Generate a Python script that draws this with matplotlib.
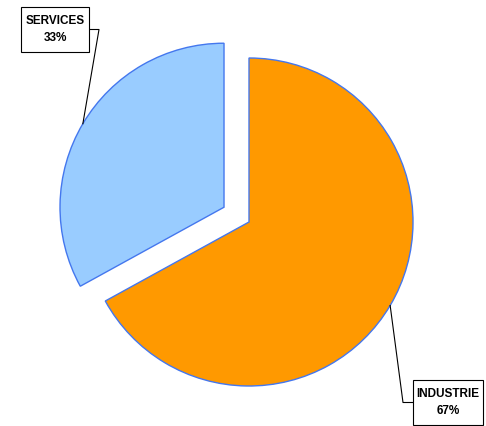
import numpy as np
import matplotlib.pyplot as plt
from matplotlib.patches import Rectangle

labels = ["INDUSTRIE", "SERVICES"]
shares = [67, 33]
colors = ["#FF9900", "#99CCFF"]
explode_frac = [0, 0.177]
label_pos = [(448, 23.5), (55, 396.5)]   # box centres, pixel units
box_size = [(70, 45), (68, 45)]

plt.rcParams["font.family"] = ["Liberation Sans", "DejaVu Sans"]

fig = plt.figure(figsize=(4.86, 4.26), dpi=100)
ax = fig.add_axes([0, 0, 1, 1])

center = (249, 204)
radius = 164
# pie() offsets exploded wedges in data units, so scale by the radius
explode = [f * radius for f in explode_frac]
wedges, _ = ax.pie(shares, colors=colors, explode=explode, startangle=90,
                   counterclock=False, center=center, radius=radius,
                   wedgeprops=dict(edgecolor="#4477EE", linewidth=1.0),
                   frame=True)
ax.set_xlim(0, 486)
ax.set_ylim(0, 426)
ax.set_aspect("equal")
ax.axis("off")

for w, lab, val, (tx, ty), (bw, bh) in zip(wedges, labels, shares,
                                           label_pos, box_size):
    # leader anchor on the arc, at the middle of the wedge
    mid = np.deg2rad((w.theta1 + w.theta2) / 2)
    cx, cy = w.center
    px = cx + w.r * np.cos(mid)
    py = cy + w.r * np.sin(mid)
    side = 1 if px > tx else -1
    ex = tx + side * bw / 2
    elbow = ex + side * 10
    ax.plot([px, elbow, ex], [py, ty, ty], color="black", lw=0.8, zorder=3)
    ax.add_patch(Rectangle((tx - bw / 2, ty - bh / 2), bw, bh, fc="white",
                           ec="black", lw=0.8, zorder=4))
    ax.text(tx, ty, f"{lab}\n{val}%", ha="center", va="center",
            fontsize=8.5, fontweight="bold", linespacing=1.65, zorder=5)

fig.savefig("out.png", dpi=100)
plt.close(fig)
